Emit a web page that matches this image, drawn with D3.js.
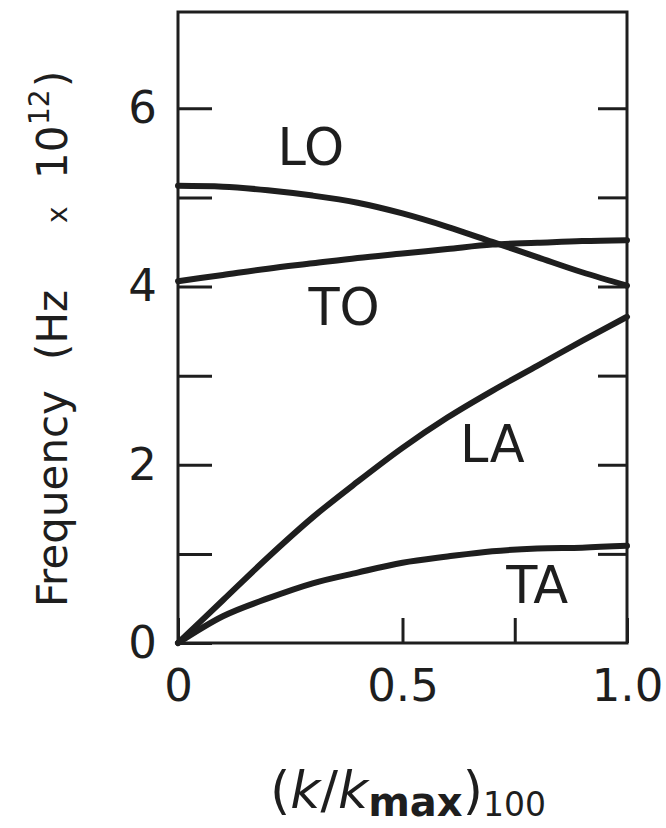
<!DOCTYPE html>
<html>
<head>
<meta charset="utf-8">
<script src="https://cdn.jsdelivr.net/npm/d3@7"></script>
<style>
  body { margin: 0; background: #fff; }
  svg { display: block; }
  text { font-family: "DejaVu Sans", sans-serif; fill: #1e1e1e; }
</style>
</head>
<body>
<svg width="666" height="828"></svg>
<script>
// reduced wave vector (k/kmax) along [100]
var kValues = [0, 0.1, 0.2, 0.3, 0.4, 0.5, 0.6, 0.7, 0.8, 0.9, 1.0]

// frequencies in units of 10^12 Hz
var loValues = [5.13, 5.12, 5.08, 5.02, 4.94, 4.82, 4.67, 4.50, 4.33, 4.16, 4.01]
var toValues = [4.06, 4.13, 4.20, 4.26, 4.32, 4.37, 4.42, 4.47, 4.49, 4.51, 4.52]
var laValues = [0, 0.48, 0.96, 1.41, 1.81, 2.19, 2.53, 2.83, 3.11, 3.39, 3.66]
var taValues = [0, 0.30, 0.50, 0.67, 0.79, 0.90, 0.97, 1.03, 1.06, 1.07, 1.09]

var branchNames = ["LO", "TO", "LA", "TA"]
var labelK = [0.296, 0.37, 0.70, 0.80]
var labelF = [5.36, 3.57, 2.03, 0.45]

var yTicks = [0, 1, 2, 3, 4, 5, 6]
var yLabelled = [0, 2, 4, 6]
var xTicks = [0, 0.5, 0.75, 1.0]
var xTickLabels = ["0", "0.5", "", "1.0"]

var ink = "#1e1e1e"
var svg = d3.select("svg")

var margin = {top: 12, right: 39, bottom: 185, left: 178},
    width = 666 - margin.left - margin.right,
    height = 828 - margin.top - margin.bottom

var x = d3.scaleLinear().domain([0, 1]).range([0, width])
var y = d3.scaleLinear().domain([0, 7.08]).range([height, 0])

var g = svg.append("g").attr("transform", "translate(" + margin.left + "," + margin.top + ")")

// ticks point inwards, like the original figure
var leftAxis = d3.axisLeft(y).tickValues(yTicks).tickSize(-34).tickPadding(21)
    .tickFormat(function(d){ return yLabelled.indexOf(d) >= 0 ? d : "" })
var rightAxis = d3.axisRight(y).tickValues(yTicks.slice(1)).tickSize(-29).tickFormat("")
var bottomAxis = d3.axisBottom(x).tickValues(xTicks).tickSize(-25).tickPadding(26)
    .tickFormat(function(d, i){ return xTickLabels[i] })

function styleAxis(sel){
    sel.select(".domain").remove()
    sel.selectAll(".tick line").attr("stroke", ink).attr("stroke-width", 3)
    sel.selectAll(".tick text").attr("fill", ink).style("font-size", "45px")
}

g.append("g").call(leftAxis).call(styleAxis)
g.append("g").attr("transform", "translate(" + width + ",0)").call(rightAxis).call(styleAxis)
g.append("g").attr("transform", "translate(0," + height + ")").call(bottomAxis).call(styleAxis)

var series = [loValues, toValues, laValues, taValues]

var valueLine = d3.line()
    .x(function(d, i){ return x(kValues[i]) })
    .y(function(d){ return y(d) })
    .curve(d3.curveMonotoneX)

series.forEach(function(s){
    g.append("path")
        .datum(s)
        .attr("fill", "none")
        .attr("stroke", ink)
        .attr("stroke-width", 6)
        .attr("stroke-linecap", "round")
        .attr("d", valueLine)
})

// frame
g.append("rect")
    .attr("width", width)
    .attr("height", height)
    .attr("fill", "none")
    .attr("stroke", ink)
    .attr("stroke-width", 3)

branchNames.forEach(function(name, i){
    g.append("text")
        .attr("x", x(labelK[i]))
        .attr("y", y(labelF[i]))
        .attr("text-anchor", "middle")
        .style("font-size", "51px")
        .text(name)
})

// y axis title, rotated
var yTitle = svg.append("text")
    .attr("transform", "translate(67,607) rotate(-90)")
    .style("font-size", "42px")
yTitle.append("tspan").attr("x", 0).text("Frequency")
yTitle.append("tspan").attr("x", 247).text("(Hz")
yTitle.append("tspan").attr("x", 384).style("font-size", "28px").text("x")
yTitle.append("tspan").attr("x", 428).text("10")
yTitle.append("tspan").attr("x", 482).attr("dy", -18).style("font-size", "28px").text("12")
yTitle.append("tspan").attr("x", 520).attr("dy", 18).text(")")

// x axis title
var xTitle = svg.append("text")
    .attr("x", 408)
    .attr("y", 808)
    .attr("text-anchor", "middle")
    .style("font-size", "52px")
xTitle.append("tspan").text("(")
xTitle.append("tspan").style("font-style", "italic").text("k")
xTitle.append("tspan").text("/")
xTitle.append("tspan").style("font-style", "italic").text("k")
xTitle.append("tspan").attr("dy", 8).style("font-size", "40px").style("font-weight", "bold").text("max")
xTitle.append("tspan").attr("dy", -8).text(")")
xTitle.append("tspan").attr("dy", 8).style("font-size", "33px").text("100")
</script>
</body>
</html>
